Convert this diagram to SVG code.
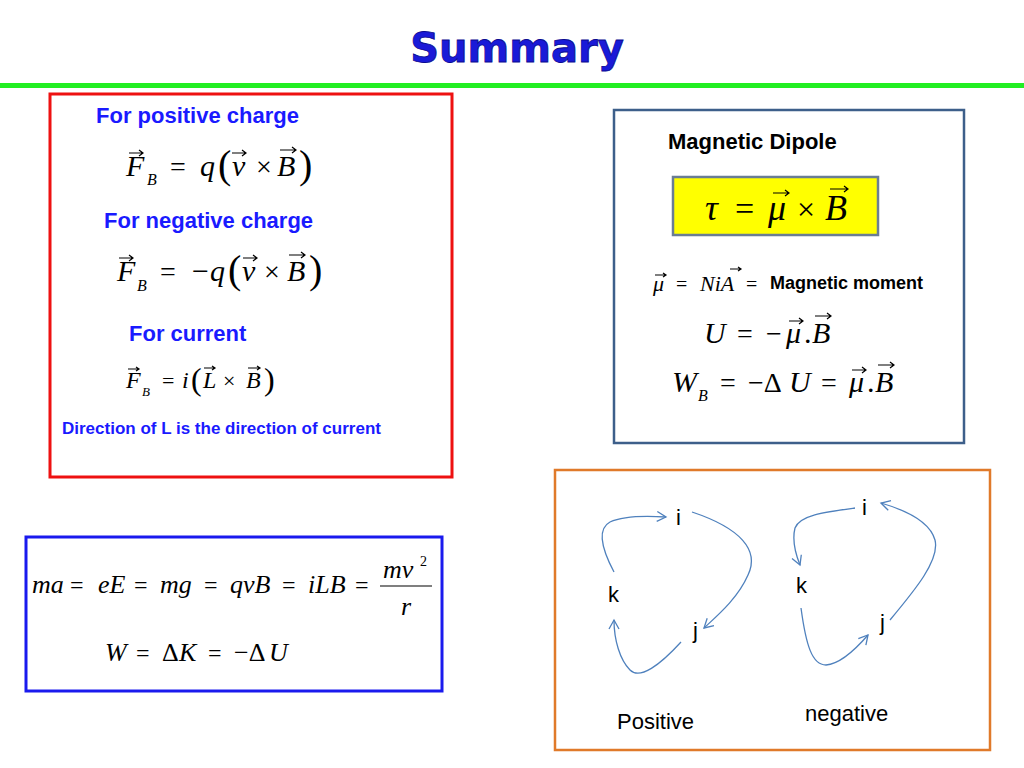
<svg xmlns="http://www.w3.org/2000/svg" width="1024" height="768" viewBox="0 0 1024 768">
<style>
.h{font-family:"Liberation Sans",Arial,sans-serif;font-weight:bold;fill:#1a1aff}
.m{font-family:"Liberation Serif","Times New Roman",serif;font-style:italic;fill:#000}
.u{font-family:"Liberation Serif","Times New Roman",serif;fill:#000}
.s{font-family:"Liberation Sans",Arial,sans-serif;fill:#000}
.c{fill:none;stroke:#4f81bd;stroke-width:1.3}
.v{fill:none;stroke:#000;stroke-width:1.2}
</style>
<defs>
<marker id="ah" markerWidth="12" markerHeight="12" refX="10" refY="6" orient="auto" markerUnits="userSpaceOnUse"><path d="M1,1 L10,6 L1,11" fill="none" stroke="#4f81bd" stroke-width="1.3"/></marker>
</defs>
<rect width="1024" height="768" fill="#fff"/>
<text x="517" y="62" text-anchor="middle" font-family="'DejaVu Sans',sans-serif" font-weight="bold" font-size="40" fill="#1a1ad8" stroke="#0a0a90" stroke-width="0.8">Summary</text>
<rect x="0" y="83" width="1024" height="5" fill="#22ee22"/>

<g id="box-force">
<rect x="50" y="94" width="402" height="383" fill="none" stroke="#ee1111" stroke-width="3"/>
<text class="h" x="96" y="123" font-size="22">For positive charge</text>
<text class="m" x="126" y="176" font-size="30">F</text><text class="m" x="147" y="185" font-size="16">B</text>
<text class="u" x="170" y="176" font-size="28">=</text><text class="m" x="200" y="176" font-size="30">q</text>
<text class="u" x="218" y="178" font-size="40">(</text><text class="m" x="232" y="176" font-size="30">v</text>
<text class="u" x="256" y="176" font-size="28">×</text><text class="m" x="277" y="176" font-size="30">B</text><text class="u" x="299" y="178" font-size="40">)</text>
<text class="h" x="104" y="228" font-size="22">For negative charge</text>
<text class="m" x="117" y="281" font-size="30">F</text><text class="m" x="137" y="291" font-size="16">B</text>
<text class="u" x="160" y="281" font-size="28">=</text><text class="u" x="192" y="281" font-size="30">−</text><text class="m" x="210" y="281" font-size="30">q</text>
<text class="u" x="228" y="283" font-size="40">(</text><text class="m" x="242" y="281" font-size="30">v</text>
<text class="u" x="264" y="281" font-size="28">×</text><text class="m" x="287" y="281" font-size="30">B</text><text class="u" x="309" y="283" font-size="40">)</text>
<text class="h" x="129" y="341" font-size="22">For current</text>
<text class="m" x="126" y="388" font-size="24">F</text><text class="m" x="142" y="396" font-size="13">B</text>
<text class="u" x="162" y="388" font-size="22">=</text><text class="m" x="182" y="388" font-size="24">i</text>
<text class="u" x="191" y="390" font-size="32">(</text><text class="m" x="203" y="388" font-size="24">L</text>
<text class="u" x="223" y="388" font-size="22">×</text><text class="m" x="246" y="388" font-size="24">B</text><text class="u" x="264" y="390" font-size="32">)</text>
<text class="h" x="62" y="434" font-size="17">Direction of L is the direction of current</text>
<path class="v" d="M129,153 H143 M139,150 L143,153 L139,156 M232,153 H246 M242,150 L246,153 L242,156 M280,150 H296 M292,147 L296,150 L292,153 M119,258 H133 M129,255 L133,258 L129,261 M243,258 H257 M253,255 L257,258 L253,261 M289,255 H305 M301,252 L305,255 L301,258 M128,369 H139 M136,367 L139,369 L136,371 M204,368 H215 M212,366 L215,368 L212,370 M248,368 H260 M257,366 L260,368 L257,370"/>
</g>

<g id="box-dipole">
<rect x="614" y="110" width="350" height="333" fill="none" stroke="#3d5f8a" stroke-width="2.5"/>
<text class="s" x="668" y="149" font-size="22" font-weight="bold">Magnetic Dipole</text>
<rect x="673" y="177" width="205" height="58" fill="#ffff00" stroke="#6a7d94" stroke-width="2.5"/>
<text class="m" x="705" y="220" font-size="36">τ</text><text class="u" x="735" y="220" font-size="34">=</text>
<text class="m" x="768" y="220" font-size="36">μ</text><text class="u" x="797" y="220" font-size="32">×</text><text class="m" x="825" y="220" font-size="36">B</text>
<path class="v" d="M773,193 H789 M785,190 L789,193 L785,196 M830,189 H848 M844,186 L848,189 L844,192"/>
<text class="m" x="653" y="291" font-size="22">μ</text><text class="u" x="676" y="291" font-size="20">=</text>
<text class="m" x="700" y="291" font-size="22">NiA</text><text class="u" x="746" y="291" font-size="20">=</text>
<text class="s" x="770" y="289" font-size="18" font-weight="bold">Magnetic moment</text>
<path class="v" d="M655,275 H666 M663,273 L666,275 L663,277 M730,269 H741 M738,267 L741,269 L738,271"/>
<text class="m" x="704" y="343" font-size="30">U</text><text class="u" x="737" y="343" font-size="28">=</text>
<text class="u" x="766" y="343" font-size="28">−</text><text class="m" x="786" y="343" font-size="30">μ</text><text class="u" x="804" y="343" font-size="30">.</text><text class="m" x="812" y="343" font-size="30">B</text>
<path class="v" d="M789,321 H803 M799,318 L803,321 L799,324 M815,316 H831 M827,313 L831,316 L827,319"/>
<text class="m" x="672" y="392" font-size="30">W</text><text class="m" x="698" y="401" font-size="16">B</text>
<text class="u" x="720" y="392" font-size="28">=</text><text class="u" x="748" y="392" font-size="28">−Δ</text><text class="m" x="789" y="392" font-size="30">U</text>
<text class="u" x="821" y="392" font-size="28">=</text><text class="m" x="849" y="392" font-size="30">μ</text><text class="u" x="867" y="392" font-size="30">.</text><text class="m" x="875" y="392" font-size="30">B</text>
<path class="v" d="M852,370 H866 M862,367 L866,370 L862,373 M878,365 H894 M890,362 L894,365 L890,368"/>
</g>

<g id="box-energy">
<rect x="26" y="537" width="416" height="154" fill="none" stroke="#1a1aee" stroke-width="3"/>
<text class="m" x="32" y="593" font-size="26">ma</text><text class="u" x="70" y="593" font-size="24">=</text>
<text class="m" x="98" y="593" font-size="26">eE</text><text class="u" x="134" y="593" font-size="24">=</text>
<text class="m" x="160" y="593" font-size="26">mg</text><text class="u" x="204" y="593" font-size="24">=</text>
<text class="m" x="230" y="593" font-size="26">qvB</text><text class="u" x="282" y="593" font-size="24">=</text>
<text class="m" x="308" y="593" font-size="26">iLB</text><text class="u" x="355" y="593" font-size="24">=</text>
<text class="m" x="383" y="578" font-size="26">mv</text><text class="u" x="420" y="566" font-size="14">2</text>
<line x1="380" y1="586" x2="432" y2="586" stroke="#000" stroke-width="1.2"/>
<text class="m" x="401" y="615" font-size="26">r</text>
<text class="m" x="105" y="661" font-size="26">W</text><text class="u" x="136" y="661" font-size="24">=</text>
<text class="u" x="162" y="661" font-size="26">Δ</text><text class="m" x="179" y="661" font-size="26">K</text>
<text class="u" x="208" y="661" font-size="24">=</text><text class="u" x="234" y="661" font-size="26">−Δ</text><text class="m" x="269" y="661" font-size="26">U</text>
</g>

<g id="box-cycle">
<rect x="555" y="470" width="435" height="280" fill="none" stroke="#e07a2a" stroke-width="2.5"/>
<text class="s" x="676" y="525" font-size="22">i</text>
<text class="s" x="608" y="602" font-size="22">k</text>
<text class="s" x="693" y="638" font-size="22">j</text>
<text class="s" x="617" y="729" font-size="22">Positive</text>
<text class="s" x="862" y="515" font-size="22">i</text>
<text class="s" x="796" y="593" font-size="22">k</text>
<text class="s" x="880" y="630" font-size="22">j</text>
<text class="s" x="805" y="721" font-size="22">negative</text>
</g>

<g id="connectors">
<path class="c" marker-end="url(#ah)" d="M614,572 C605,555 595,530 610,522 C625,515 650,516 666,517"/>
<path class="c" marker-end="url(#ah)" d="M692,512 C740,528 760,550 748,575 C738,598 718,615 704,628"/>
<path class="c" marker-end="url(#ah)" d="M681,642 C660,665 640,680 630,670 C620,660 614,640 614,620"/>
<path class="c" marker-end="url(#ah)" d="M855,508 C825,512 800,515 795,528 C792,540 796,555 800,565"/>
<path class="c" marker-end="url(#ah)" d="M801,608 C806,645 812,665 826,665 C840,664 855,650 868,635"/>
<path class="c" marker-end="url(#ah)" d="M890,620 C915,590 940,560 935,540 C930,522 905,510 881,503"/>
</g>
</svg>
